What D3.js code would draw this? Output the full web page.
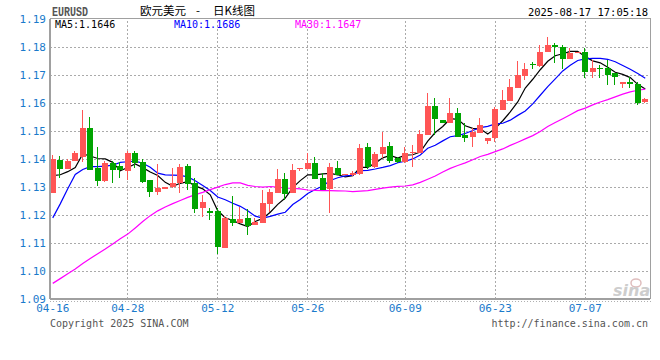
<!DOCTYPE html>
<html>
<head>
<meta charset="utf-8">
<script src="https://cdn.jsdelivr.net/npm/d3@7"></script>
<style>
  body { margin: 0; background: #fff; }
  svg { display: block; }
</style>
</head>
<body>
<svg id="chart" width="660" height="360"></svg>
<script>
// daily bars (sina forex feed includes short saturday / sunday bars)
const dates = [
  '04-16','04-17','04-18','04-19','04-21','04-22','04-23','04-24','04-25','04-26',
  '04-28','04-29','04-30','05-01','05-02','05-03','05-05','05-06','05-07','05-08',
  '05-09','05-10','05-12','05-13','05-14','05-15','05-16','05-17','05-19','05-20',
  '05-21','05-22','05-23','05-24','05-26','05-27','05-28','05-29','05-30','05-31',
  '06-01','06-02','06-03','06-04','06-05','06-06','06-07','06-09','06-10','06-11',
  '06-12','06-13','06-14','06-16','06-17','06-18','06-19','06-20','06-21','06-23',
  '06-24','06-25','06-26','06-27','06-28','06-30','07-01','07-02','07-03','07-04',
  '07-05','07-07','07-08','07-09','07-10','07-11','07-12','07-14','07-15','07-16'
];
const opens = [
  1.1278,1.1395,1.1364,1.1392,1.1406,1.1510,1.1367,1.1320,1.1383,1.1374,
  1.1355,1.1420,1.1386,1.1323,1.1281,1.1291,1.1298,1.1313,1.1373,1.1313,
  1.1223,1.1214,1.1214,1.1081,1.1183,1.1171,1.1186,1.1163,1.1171,1.1238,
  1.1276,1.1326,1.1278,1.1361,1.1364,1.1384,1.1329,1.1291,1.1365,1.1341,
  1.1341,1.1345,1.1441,1.1371,1.1416,1.1445,1.1401,1.1386,1.1419,1.1419,
  1.1485,1.1589,1.1538,1.1527,1.1563,1.1484,1.1478,1.1492,1.1463,1.1472,
  1.1573,1.1606,1.1651,1.1696,1.1739,1.1731,1.1781,1.1805,1.1799,1.1755,
  1.1778,1.1781,1.1710,1.1724,1.1724,1.1704,1.1667,1.1672,1.1666,1.1601
];
const highs = [
  1.1413,1.1409,1.1398,1.1427,1.1573,1.1548,1.1441,1.1391,1.1391,1.1388,
  1.1427,1.1427,1.1398,1.1323,1.1380,1.1298,1.1367,1.1379,1.1379,1.1331,
  1.1270,1.1224,1.1223,1.1195,1.1266,1.1226,1.1219,1.1186,1.1288,1.1292,
  1.1361,1.1347,1.1379,1.1366,1.1421,1.1406,1.1347,1.1384,1.1391,1.1346,
  1.1356,1.1452,1.1456,1.1424,1.1495,1.1459,1.1406,1.1441,1.1448,1.1502,
  1.1633,1.1615,1.1538,1.1615,1.1579,1.1526,1.1509,1.1546,1.1472,1.1585,
  1.1645,1.1683,1.1748,1.1741,1.1744,1.1805,1.1834,1.1811,1.1805,1.1794,
  1.1781,1.1794,1.1752,1.1734,1.1752,1.1704,1.1674,1.1692,1.1674,1.1617
];
const lows = [
  1.1278,1.1331,1.1361,1.1392,1.1389,1.1359,1.1303,1.1317,1.1314,1.1330,
  1.1323,1.1367,1.1311,1.1264,1.1270,1.1291,1.1294,1.1277,1.1288,1.1206,
  1.1192,1.1180,1.1059,1.1081,1.1160,1.1168,1.1127,1.1163,1.1170,1.1210,
  1.1276,1.1252,1.1278,1.1356,1.1364,1.1327,1.1288,1.1206,1.1341,1.1341,
  1.1338,1.1341,1.1361,1.1366,1.1401,1.1383,1.1385,1.1384,1.1369,1.1419,
  1.1485,1.1484,1.1526,1.1527,1.1476,1.1460,1.1442,1.1492,1.1451,1.1459,
  1.1573,1.1606,1.1651,1.1680,1.1720,1.1728,1.1781,1.1740,1.1720,1.1755,
  1.1778,1.1686,1.1686,1.1686,1.1663,1.1663,1.1651,1.1651,1.1591,1.1597
];
const closes = [
  1.1398,1.1364,1.1391,1.1420,1.1510,1.1359,1.1320,1.1383,1.1359,1.1358,
  1.1420,1.1383,1.1317,1.1281,1.1295,1.1298,1.1313,1.1370,1.1309,1.1221,
  1.1245,1.1206,1.1085,1.1186,1.1171,1.1185,1.1159,1.1173,1.1242,1.1281,
  1.1326,1.1273,1.1359,1.1366,1.1384,1.1327,1.1288,1.1369,1.1341,1.1346,
  1.1348,1.1438,1.1369,1.1416,1.1441,1.1392,1.1389,1.1421,1.1424,1.1488,
  1.1589,1.1542,1.1528,1.1563,1.1478,1.1473,1.1496,1.1520,1.1472,1.1577,
  1.1609,1.1654,1.1698,1.1720,1.1734,1.1779,1.1805,1.1797,1.1755,1.1776,
  1.1781,1.1710,1.1722,1.1720,1.1698,1.1690,1.1672,1.1665,1.1599,1.1613
];

// moving average values before a full window exists (they use bars left of the chart)
const ma5Head = [1.1339, 1.1342, 1.1353, 1.1368];
const ma10Head = [1.1188, 1.1238, 1.1292, 1.1343, 1.1361, 1.1371, 1.1371, 1.1373, 1.1376];
const ma30Head = [
  1.0954,1.0971,1.0988,1.1005,1.1025,1.1043,1.1060,1.1077,1.1095,1.1113,
  1.1130,1.1152,1.1175,1.1196,1.1213,1.1227,1.1239,1.1250,1.1261,1.1271,
  1.1279,1.1289,1.1298,1.1307,1.1313,1.1313,1.1304,1.1300,1.1298
];

const xTickDates = ['04-16','04-28','05-12','05-26','06-09','06-23','07-07'];
const yTicks = [1.09,1.10,1.11,1.12,1.13,1.14,1.15,1.16,1.17,1.18,1.19];
const maNames = ['MA5','MA10','MA30'];
const maLastValues = ['1.1646','1.1686','1.1647'];

const plot = {left: 50, right: 650, top: 18.5, bottom: 298.5};
const upColor = '#ff5555';
const downColor = '#00a400';
const maColors = ['#000000', '#0000ff', '#ff00ff'];
const axisBlue = '#1a7acb';
const mono = '"DejaVu Sans Mono", monospace';

const svg = d3.select('#chart');

const x = d3.scaleBand()
  .domain(dates)
  .range([plot.left - 1, plot.right - 1])
  .paddingInner(0.2)
  .paddingOuter(0.1);

const y = d3.scaleLinear()
  .domain([1.09, 1.19])
  .range([plot.bottom, plot.top]);

const bw = x.bandwidth();
const cx = d => x(d) + bw / 2;

// grid + y labels
const yAxisG = svg.append('g')
  .attr('transform', 'translate(' + plot.left + ',0)')
  .call(d3.axisLeft(y)
    .tickValues(yTicks)
    .tickFormat(d3.format('.2f'))
    .tickSize(-(plot.right - plot.left))
    .tickPadding(4));
yAxisG.select('.domain').remove();
yAxisG.selectAll('.tick line')
  .attr('stroke', '#aaa')
  .attr('stroke-dasharray', '2,2')
  .attr('shape-rendering', 'crispEdges')
  .filter(d => d === 1.09 || d === 1.19).remove();
yAxisG.selectAll('.tick text')
  .attr('fill', axisBlue)
  .attr('font-family', mono)
  .attr('font-size', 11);

const xAxisG = svg.append('g')
  .attr('transform', 'translate(0,' + plot.bottom + ')')
  .call(d3.axisBottom(x)
    .tickValues(xTickDates)
    .tickSize(-(plot.bottom - plot.top))
    .tickPadding(6));
xAxisG.select('.domain').remove();
xAxisG.selectAll('.tick line')
  .attr('stroke', '#aaa')
  .attr('stroke-dasharray', '2,2')
  .attr('shape-rendering', 'crispEdges')
  .filter(d => d === xTickDates[0]).remove();
xAxisG.selectAll('.tick text')
  .attr('fill', axisBlue)
  .attr('font-family', mono)
  .attr('font-size', 11);

// sina watermark
const logo = svg.append('g').attr('opacity', 0.75);
logo.append('ellipse')
  .attr('cx', 636).attr('cy', 283).attr('rx', 5).attr('ry', 4)
  .attr('fill', 'none').attr('stroke', '#d4a8a8').attr('stroke-width', 1.5);
logo.append('text')
  .attr('x', 613).attr('y', 296)
  .attr('font-family', '"DejaVu Sans", sans-serif')
  .attr('font-size', 16).attr('font-weight', 'bold').attr('font-style', 'italic')
  .attr('fill', '#bdbdbd')
  .text('sina');

// moving averages
const movingAverage = (n, head) => closes.map((c, i) => {
  if (i < n - 1) return head[i];
  return d3.mean(closes.slice(i - n + 1, i + 1));
});
const maSeries = [movingAverage(5, ma5Head), movingAverage(10, ma10Head), movingAverage(30, ma30Head)];

const line = d3.line()
  .x((v, i) => cx(dates[i]))
  .y(v => y(v));

svg.append('g')
  .selectAll('path')
  .data(maSeries)
  .join('path')
  .attr('d', line)
  .attr('fill', 'none')
  .attr('stroke', (d, i) => maColors[i])
  .attr('stroke-width', 1.2);

// candles
const bars = dates.map((d, i) => ({date: d, o: opens[i], h: highs[i], l: lows[i], c: closes[i]}));
const candle = svg.append('g')
  .attr('shape-rendering', 'crispEdges')
  .selectAll('g')
  .data(bars)
  .join('g');

candle.append('line')
  .attr('x1', d => Math.round(x(d.date)) + 2.5)
  .attr('x2', d => Math.round(x(d.date)) + 2.5)
  .attr('y1', d => y(d.h))
  .attr('y2', d => y(d.l))
  .attr('stroke', d => d.c >= d.o ? upColor : downColor);

candle.append('rect')
  .attr('x', d => Math.round(x(d.date)))
  .attr('width', Math.round(bw))
  .attr('y', d => y(Math.max(d.o, d.c)))
  .attr('height', d => Math.max(1, Math.abs(y(d.o) - y(d.c))))
  .attr('fill', d => d.c >= d.o ? upColor : downColor);

// frame
const frame = svg.append('g').attr('shape-rendering', 'crispEdges');
frame.append('rect')
  .attr('x', plot.left).attr('y', plot.top)
  .attr('width', plot.right - plot.left).attr('height', plot.bottom - plot.top)
  .attr('fill', 'none').attr('stroke', '#a0a0a0');
frame.append('line')
  .attr('x1', plot.left).attr('x2', plot.left)
  .attr('y1', plot.top).attr('y2', plot.bottom)
  .attr('stroke', '#a0a0a0').attr('stroke-width', 2);
frame.append('line')
  .attr('x1', plot.left).attr('x2', plot.right)
  .attr('y1', plot.bottom).attr('y2', plot.bottom)
  .attr('stroke', '#a0a0a0').attr('stroke-width', 2);
frame.append('line')
  .attr('x1', plot.left).attr('x2', plot.right + 2)
  .attr('y1', plot.bottom + 2.5).attr('y2', plot.bottom + 2.5)
  .attr('stroke', '#b0b0b0').attr('stroke-dasharray', '1,2');

// legend
svg.append('g')
  .selectAll('text')
  .data(maNames)
  .join('text')
  .attr('x', (d, i) => [55, 174, 295][i])
  .attr('y', 27.5)
  .attr('font-family', mono)
  .attr('font-size', 10)
  .attr('fill', (d, i) => maColors[i])
  .text((d, i) => d + ':' + maLastValues[i]);

// header
svg.append('text')
  .attr('x', 52).attr('y', 15.5)
  .attr('font-family', '"Liberation Mono", monospace')
  .attr('font-weight', 'bold')
  .attr('font-size', 12)
  .attr('textLength', 36).attr('lengthAdjust', 'spacingAndGlyphs')
  .attr('fill', '#555')
  .text('EURUSD');

const titleFont = '"Noto Sans CJK SC", sans-serif';
svg.append('text').attr('x', 140).attr('y', 14.5)
  .attr('font-family', titleFont).attr('font-size', 11.5).attr('fill', '#000')
  .text('欧元美元');
svg.append('text').attr('x', 196).attr('y', 14.5)
  .attr('font-family', titleFont).attr('font-size', 11.5).attr('fill', '#000')
  .text('-');
svg.append('text').attr('x', 213).attr('y', 14.5)
  .attr('font-family', titleFont).attr('font-size', 11.5).attr('fill', '#000')
  .text('日K线图');

svg.append('text')
  .attr('x', 648).attr('y', 16)
  .attr('text-anchor', 'end')
  .attr('font-family', mono)
  .attr('font-size', 10.5)
  .attr('fill', '#000')
  .text('2025-08-17 17:05:18');

// footer
svg.append('text')
  .attr('x', 50).attr('y', 327)
  .attr('font-family', mono).attr('font-size', 10).attr('fill', '#555')
  .text('Copyright 2025 SINA.COM');
svg.append('text')
  .attr('x', 648).attr('y', 327)
  .attr('text-anchor', 'end')
  .attr('font-family', mono).attr('font-size', 10).attr('fill', '#555')
  .text('http://finance.sina.com.cn');
</script>
</body>
</html>
